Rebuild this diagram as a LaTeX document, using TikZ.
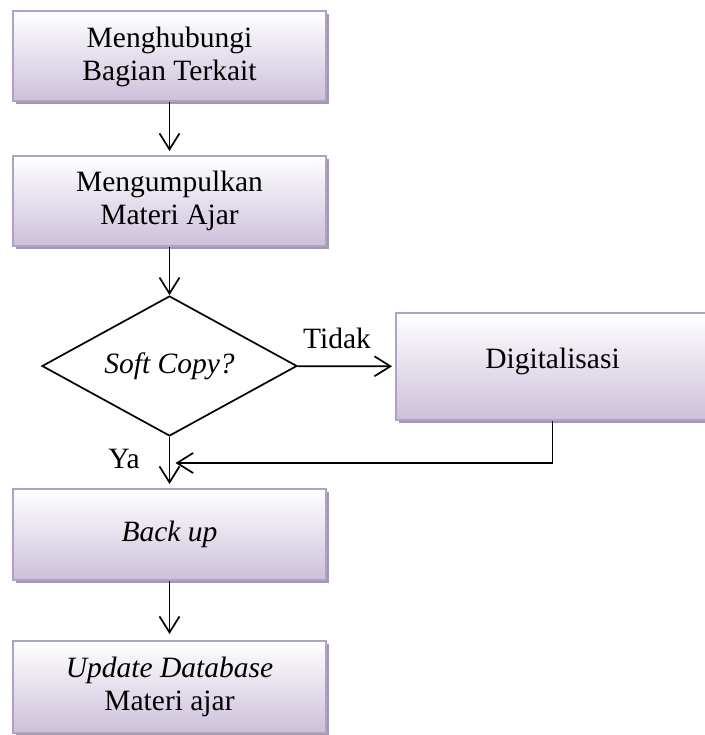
\documentclass[tikz,border=0pt]{standalone}
\usepackage{fontspec}
\setmainfont{Liberation Serif}
\usetikzlibrary{shapes.geometric,shadows,arrows.meta}

\newlength{\du}
\setlength{\du}{1pt}

\definecolor{boxline}{RGB}{178,161,199}
\definecolor{boxfill}{RGB}{204,192,218}
\definecolor{boxshade}{RGB}{160,154,166}

\tikzset{
  stepbox/.style={rectangle, draw=boxline, line width=2\du,
    top color=white, bottom color=boxfill,
    minimum width=313\du, minimum height=90\du, align=center, inner sep=0pt,
    drop shadow={shadow xshift=3\du, shadow yshift=-3\du, fill=boxshade, opacity=1}},
  decision/.style={diamond, draw, line width=1.7\du, aspect=1.8,
    minimum width=255\du, minimum height=140\du, inner sep=0pt},
  flow/.style={line width=1.7\du, -{Straight Barb[length=16pt, width=20pt]}},
  tag/.style={inner sep=0pt}
}

\begin{document}
\begin{tikzpicture}[x=\du, y=-\du, font=\fontsize{29.5}{33}\selectfont]
\useasboundingbox (0,0) rectangle (704,735);

% steps
\node[stepbox] (contact) at (169.5,56.5) {Menghubungi\\Bagian Terkait};
\node[stepbox] (collect) at (169.5,201) {Mengumpulkan\\Materi Ajar};
\node[decision] (soft) at (169.5,366) {\textit{Soft Copy?}};
\node[stepbox, minimum height=107\du, text height=20\du, text depth=17\du] (digital) at (552.5,366.5) {Digitalisasi};
\node[stepbox, minimum height=91\du] (backup) at (169.5,534.5) {\textit{Back up}};
\node[stepbox, minimum height=92\du] (update) at (169.5,687) {\textit{Update Database}\\Materi ajar};

\coordinate (join) at (169.5,463);

% labels
\node[tag, anchor=base west] (tidak) at (303,348) {Tidak};
\node[tag, anchor=base east] (ya) at (140,468) {Ya};

% connectors
\draw[flow, shorten >=4pt] (contact) -- (collect);
\draw[flow] (collect) -- (soft);
\draw[flow, shorten >=3pt] (soft) -- (digital);
\draw[flow] (digital.south) |- ([xshift=6pt]join);
\draw[flow, shorten >=4pt] (soft) -- (backup);
\draw[flow, shorten >=6pt] (backup) -- (update);
\end{tikzpicture}
\end{document}
